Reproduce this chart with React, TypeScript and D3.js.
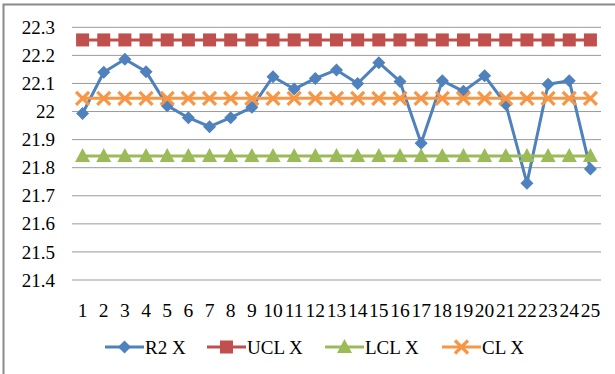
import React from "react";
import * as d3 from "d3";

const categories: string[] = Array.from({ length: 25 }, (_, i) => String(i + 1));
const r2X: number[] = [
  21.993, 22.14, 22.186, 22.142, 22.021, 21.978, 21.946, 21.978, 22.015, 22.124,
  22.08, 22.118, 22.148, 22.1, 22.174, 22.107, 21.887, 22.11, 22.072, 22.127,
  22.026, 21.745, 22.097, 22.11, 21.795,
];
const uclValue = 22.255;
const lclValue = 21.842;
const clValue = 22.047;
const yTicks: number[] = [21.4, 21.5, 21.6, 21.7, 21.8, 21.9, 22, 22.1, 22.2, 22.3];
const seriesNames: string[] = ["R2 X", "UCL X", "LCL X", "CL X"];

const W = 615;
const H = 374;
const plot = { left: 72, right: 601, top: 27.3, bottom: 280 };
const colors = { r2: "#4F81BD", ucl: "#C0504D", lcl: "#9BBB59", cl: "#F79646" };

type Kind = "diamond" | "square" | "triangle" | "cross";

function Marker({ kind, x, y, color }: { kind: Kind; x: number; y: number; color: string }) {
  if (kind === "diamond") {
    const r = 6.5;
    return <path d={`M${x},${y - r}L${x + r},${y}L${x},${y + r}L${x - r},${y}Z`} fill={color} />;
  }
  if (kind === "square") {
    const s = 13;
    return <rect x={x - s / 2} y={y - s / 2} width={s} height={s} fill={color} />;
  }
  if (kind === "triangle") {
    const w = 15, h = 14;
    return <path d={`M${x},${y - h / 2 - 1}L${x + w / 2},${y + h / 2 - 1}L${x - w / 2},${y + h / 2 - 1}Z`} fill={color} />;
  }
  const r = 6.5;
  return (
    <path
      d={`M${x - r},${y - r}L${x + r},${y + r}M${x - r},${y + r}L${x + r},${y - r}`}
      stroke={color}
      strokeWidth={3.2}
      fill="none"
    />
  );
}

function Label(props: { x: number; y: number; anchor?: string; size: number; dy?: string; children: React.ReactNode }) {
  return (
    <text
      x={props.x}
      y={props.y}
      dy={props.dy}
      textAnchor={props.anchor ?? "start"}
      fill="#000"
      className="serif-label"
      style={{ fontFamily: "'Liberation Serif'", fontSize: props.size }}
    >
      {props.children}
    </text>
  );
}

export default function App() {
  const x = d3.scaleBand<string>().domain(categories).range([plot.left, plot.right]).padding(0);
  const cx = (c: string) => (x(c) as number) + x.bandwidth() / 2;
  const y = d3.scaleLinear().domain([21.4, 22.3]).range([plot.bottom, plot.top]);
  const line = d3.line<[number, number]>().x((d) => d[0]).y((d) => d[1]);

  const series: { name: string; values: number[]; color: string; kind: Kind }[] = [
    { name: seriesNames[0], values: r2X, color: colors.r2, kind: "diamond" },
    { name: seriesNames[1], values: categories.map(() => uclValue), color: colors.ucl, kind: "square" },
    { name: seriesNames[2], values: categories.map(() => lclValue), color: colors.lcl, kind: "triangle" },
    { name: seriesNames[3], values: categories.map(() => clValue), color: colors.cl, kind: "cross" },
  ];

  const legendX = [105, 207, 325, 442];

  return (
    <svg width={W} height={H} style={{ position: "absolute", left: 0, top: 0, background: "#fff" }}>
      <style>{`.serif-label { font-family: 'Liberation Serif', 'Tinos', serif !important; }`}</style>
      <rect x={3.5} y={4.5} width={W + 10} height={H + 10} fill="#fff" stroke="#8a8a8a" strokeWidth={2} />

      {yTicks.map((t) => (
        <g key={t}>
          <line x1={plot.left} x2={plot.right} y1={y(t)} y2={y(t)} stroke="#9a9a9a" strokeWidth={1} />
          <Label x={55} y={y(t)} dy="0.35em" anchor="end" size={19}>
            {d3.format("")(t)}
          </Label>
        </g>
      ))}

      {categories.map((c) => (
        <Label key={c} x={cx(c)} y={317} anchor="middle" size={19.5}>
          {c}
        </Label>
      ))}

      {series.map((s) => {
        const pts = s.values.map((v, i) => [cx(categories[i]), y(v)] as [number, number]);
        return (
          <g key={s.name}>
            <path d={line(pts) ?? ""} stroke={s.color} strokeWidth={3} fill="none" strokeLinejoin="round" />
            {pts.map((p, i) => (
              <Marker key={i} kind={s.kind} x={p[0]} y={p[1]} color={s.color} />
            ))}
          </g>
        );
      })}

      {series.map((s, i) => {
        const lx = legendX[i];
        const ly = 347;
        return (
          <g key={s.name}>
            <line x1={lx} x2={lx + 39} y1={ly} y2={ly} stroke={s.color} strokeWidth={3} />
            <Marker kind={s.kind} x={lx + 19.5} y={ly} color={s.color} />
            <Label x={lx + 40} y={ly} dy="0.35em" size={19}>
              {s.name}
            </Label>
          </g>
        );
      })}
    </svg>
  );
}
